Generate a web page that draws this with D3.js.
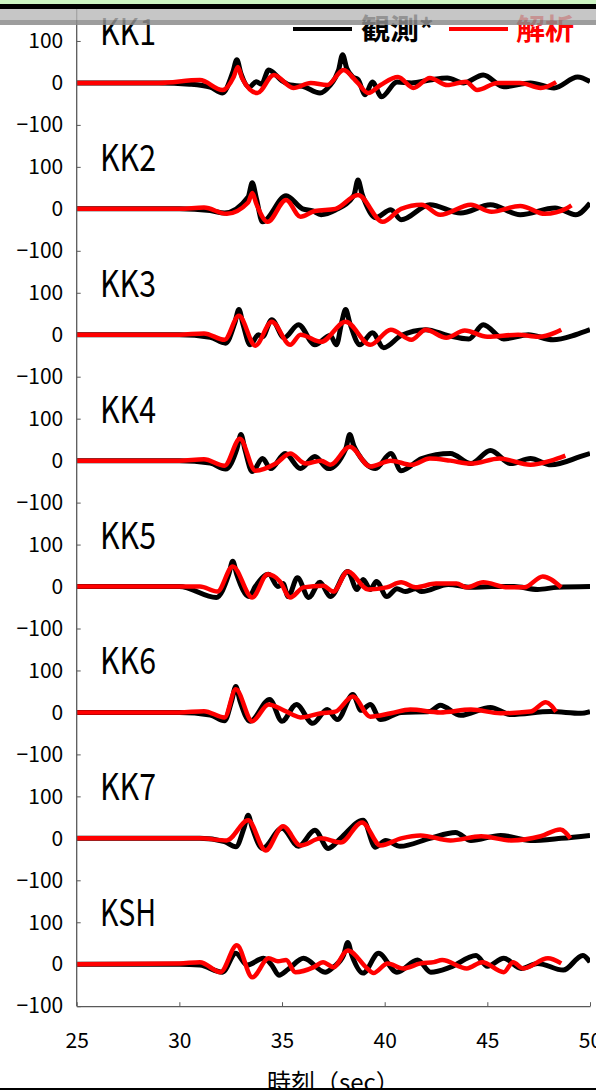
<!DOCTYPE html>
<html>
<head>
<meta charset="utf-8">
<script src="https://cdn.jsdelivr.net/npm/d3@7"></script>
<style>
  body { margin: 0; background: #fff; }
  svg { display: block; }
  text { font-family: "Noto Sans CJK JP", "Noto Sans", sans-serif; }
</style>
</head>
<body>
<div id="chart"></div>
<script>
// station names, top to bottom
var stations = ["KK1", "KK2", "KK3", "KK4", "KK5", "KK6", "KK7", "KSH"];

// observed (black) and analysis (red) traces, [time sec, value]
var obsKK1 = [[25,0],[29,0],[30.5,-3],[31.5,-10],[32.1,-24],[32.6,25],[32.8,55],[33.0,22],[33.4,-10],[33.75,3],[34.0,-3],[34.35,31],[35.0,5],[35.4,-5],[36.0,-8],[36.85,-24],[37.3,-8],[37.75,30],[37.95,67],[38.15,35],[38.45,14],[38.7,8],[39.05,-28],[39.4,2],[39.85,-33],[40.6,2],[41.3,0],[42.2,7],[43.05,12],[43.85,0],[44.8,19],[45.8,-9],[47.1,0],[48.25,-12],[49.4,14],[50,3]];
var anaKK1 = [[25,0],[29,0],[31,7],[32.1,-17],[32.65,15],[32.85,38],[33.05,12],[33.8,-24],[34.6,19],[35.55,-12],[36.4,0],[37.2,-5],[38.0,31],[38.65,2],[39.2,-24],[39.8,-5],[40.65,14],[41.4,-12],[42.2,12],[43.05,-5],[43.95,3],[44.5,-17],[45.5,0],[46.6,0],[47.6,-12],[48.35,2]];

var obsKK2 = [[25,0],[30,0],[31.5,-4],[32.2,-10],[33.35,28],[33.55,62],[33.75,25],[34.05,-31],[35.2,31],[36.0,0],[36.5,-5],[36.9,-14],[37.6,-3],[38.5,32],[38.7,69],[38.9,35],[39.1,10],[39.55,-21],[40.3,-2],[40.8,-26],[42.2,10],[43.7,-10],[45.15,10],[46.6,-14],[48.3,2],[49.3,-14],[50,14]];
var anaKK2 = [[25,0],[30,0],[31.2,3],[32.3,-12],[33.35,15],[33.55,38],[33.75,12],[34.3,-31],[35.2,21],[35.9,-19],[36.6,-5],[37.6,0],[38.7,33],[39.9,-31],[40.8,0],[41.8,10],[42.7,-14],[44.2,10],[45.2,-7],[46.6,7],[47.8,-12],[48.9,2],[49.1,8]];

var obsKK3 = [[25,0],[30,0],[31.5,-6],[32.25,-20],[32.7,28],[32.9,60],[33.1,25],[33.45,-24],[33.85,0],[34.05,-5],[34.5,36],[35.1,-7],[35.8,24],[36.6,-24],[37.35,-2],[37.65,-24],[37.9,28],[38.1,60],[38.3,28],[38.8,-24],[39.4,5],[39.95,-31],[40.8,-2],[42.0,12],[43.1,-2],[44.1,-10],[44.8,24],[45.8,-10],[47.0,0],[48.2,-12],[49.3,0],[50,12]];
var anaKK3 = [[25,0],[30,0],[31.2,3],[32.2,-12],[32.9,45],[33.7,-26],[34.5,31],[35.4,-24],[35.9,0],[36.9,-17],[38.1,31],[39.3,-24],[40.3,12],[41.3,-12],[42.0,12],[43.0,-7],[43.9,10],[45.0,-5],[46.5,0],[47.5,-5],[48.3,5],[48.6,12]];

var obsKK4 = [[25,0],[30,0],[31.5,-6],[32.25,-20],[32.8,28],[33.0,62],[33.2,25],[33.55,-26],[34.05,5],[34.45,-19],[35.15,17],[35.9,-19],[36.6,10],[37.25,-19],[38.1,28],[38.3,62],[38.5,35],[38.7,17],[39.55,-19],[40.3,17],[40.8,-24],[41.8,5],[43.2,17],[44.2,-7],[45.15,24],[46.15,-7],[47.1,5],[48.1,-10],[49.55,10],[50,17]];
var anaKK4 = [[25,0],[30,0],[31.2,3],[32.2,-12],[32.95,52],[33.7,-24],[34.7,-7],[35.4,17],[36.15,-7],[36.9,0],[37.35,-10],[38.3,33],[39.3,-14],[40.3,0],[41.3,-10],[42.2,5],[43.2,0],[44.2,-7],[45.6,5],[47.1,-10],[48.1,0],[48.8,12]];

var obsKK5 = [[25,0],[30,0],[31.8,-26],[32.4,28],[32.6,60],[32.8,28],[33.4,-24],[33.7,0],[34.35,29],[34.8,0],[35.05,7],[35.3,-24],[35.75,21],[36.3,-26],[36.85,10],[37.35,-24],[38.2,36],[38.65,-7],[38.95,17],[39.3,-7],[39.6,12],[40.1,-24],[40.6,-5],[41.0,-12],[41.5,-5],[41.8,-12],[43.1,5],[44.2,-2],[45.2,0],[46.3,0],[47.45,-7],[48.4,-2],[50,0]];
var anaKK5 = [[25,0],[31,0],[31.85,-12],[32.6,48],[33.55,-26],[34.3,29],[34.9,12],[35.4,-26],[36.05,-2],[37.0,2],[37.5,-12],[38.2,36],[39.2,-7],[40.1,-2],[40.8,10],[41.5,-2],[42.5,7],[43.5,7],[44.0,-2],[44.8,10],[46.0,-2],[46.8,-2],[47.7,24],[48.6,-2]];

var obsKK6 = [[25,0],[30,0],[31.5,-6],[32.2,-20],[32.55,28],[32.75,62],[32.95,28],[33.45,-21],[34.4,31],[35.0,-21],[35.7,19],[36.5,-26],[37.2,7],[37.7,-17],[38.45,43],[38.85,5],[39.3,19],[39.8,-17],[40.8,0],[42.2,2],[42.7,17],[43.7,-7],[45.15,12],[46.15,-5],[48.1,2],[49.55,-2],[50,2]];
var anaKK6 = [[25,0],[30,0],[31.2,3],[32.2,-12],[32.75,55],[33.55,-21],[34.35,19],[35.0,7],[35.5,-5],[35.9,-12],[36.9,-2],[37.6,2],[38.45,38],[39.3,-10],[40.3,-2],[41.25,7],[42.7,0],[44.2,7],[45.65,-2],[47.1,2],[47.85,24],[48.35,2]];

var obsKK7 = [[25,0],[31,0],[32.2,-8],[32.75,-20],[33.15,25],[33.35,55],[33.55,25],[34.05,-24],[35.0,24],[35.8,-19],[36.6,19],[37.25,-24],[37.85,0],[38.95,43],[39.55,-21],[40.05,-5],[40.75,-19],[42.2,0],[43.45,14],[44.2,-5],[45.65,7],[47.1,-5],[48.6,0],[50,7]];
var anaKK7 = [[25,0],[31,0],[32.3,-5],[33.35,43],[34.2,-29],[35.05,29],[35.9,-17],[36.9,0],[37.85,-10],[38.9,38],[39.8,-17],[40.8,0],[41.75,7],[43.2,-5],[44.7,5],[46.15,-5],[47.6,5],[48.55,21],[49.05,0]];

var obsKSH = [[25,0],[30,0],[31.0,-2],[32.1,-19],[32.75,26],[33.3,-2],[34.1,14],[34.5,-2],[34.85,-26],[35.3,-12],[36.05,14],[37.1,-19],[37.5,-7],[38.0,22],[38.2,52],[38.4,22],[38.95,-21],[39.7,26],[40.6,-19],[41.6,10],[42.25,-19],[43.2,-7],[44.45,21],[45.0,-5],[45.8,14],[46.65,-10],[47.45,2],[48.7,-14],[49.65,21],[50,5]];
var anaKSH = [[25,0],[30,2],[31.0,5],[32.0,-19],[32.8,45],[33.55,-31],[34.35,14],[34.8,7],[35.2,10],[35.65,-19],[36.55,-7],[37.0,5],[37.5,-7],[38.2,33],[39.15,-10],[39.45,-21],[40.15,2],[40.9,-10],[41.75,2],[42.4,5],[42.8,10],[44.0,-10],[44.75,5],[45.8,-19],[46.25,5],[46.75,-10],[47.95,14],[48.6,2]];

var observed = [obsKK1, obsKK2, obsKK3, obsKK4, obsKK5, obsKK6, obsKK7, obsKSH];
var analysis = [anaKK1, anaKK2, anaKK3, anaKK4, anaKK5, anaKK6, anaKK7, anaKSH];

var xTicks = [25, 30, 35, 40, 45, 50];
var yTicks = [-100, 0, 100];
var legendLabels = ["観測*", "解析"];
var xTitle = "時刻（sec）";

var width = 596;
var height = 1091;
var plotLeft = 76.7;
var plotRight = 590;
var plotTop = -1;
var panelHeight = 125.9;
var plotBottom = plotTop + panelHeight * stations.length;

var svg = d3
  .select("#chart")
  .append("svg")
  .attr("width", width)
  .attr("height", height);

var x = d3.scaleLinear().domain([25, 50]).range([plotLeft, plotRight]);

svg
  .append("clipPath")
  .attr("id", "plot-clip")
  .append("rect")
  .attr("x", plotLeft)
  .attr("y", 0)
  .attr("width", plotRight - plotLeft)
  .attr("height", height);

var axisColor = "#595959";

// one panel per station
stations.forEach(function (name, i) {
  var y = d3
    .scaleLinear()
    .domain([-100, 200])
    .range([plotTop + panelHeight * (i + 1), plotTop + panelHeight * i]);

  var yAxis = svg
    .append("g")
    .attr("transform", "translate(" + plotLeft + ",0)")
    .call(d3.axisLeft(y).tickValues(yTicks).tickSizeInner(-4).tickSizeOuter(0).tickPadding(13.5));
  yAxis.select(".domain").remove();
  yAxis.selectAll("line").attr("stroke", axisColor);
  yAxis.selectAll("text").attr("font-size", 21).attr("fill", "#000").attr("font-family", null);

  svg
    .append("text")
    .attr("x", 100)
    .attr("y", y(0) - 38)
    .attr("font-size", 37)
    .attr("textLength", 56)
    .attr("lengthAdjust", "spacingAndGlyphs")
    .attr("fill", "#000")
    .text(name);

  var line = d3
    .line()
    .x((d) => x(d[0]))
    .y((d) => y(d[1]))
    .curve(d3.curveMonotoneX);

  svg
    .append("path")
    .datum(observed[i])
    .attr("clip-path", "url(#plot-clip)")
    .attr("d", line)
    .attr("fill", "none")
    .attr("stroke", "#000")
    .attr("stroke-width", 5)
    .attr("stroke-linejoin", "round");

  svg
    .append("path")
    .datum(analysis[i])
    .attr("clip-path", "url(#plot-clip)")
    .attr("d", line)
    .attr("fill", "none")
    .attr("stroke", "#ff0000")
    .attr("stroke-width", 4.5)
    .attr("stroke-linejoin", "round");
});

// left axis line
svg
  .append("line")
  .attr("x1", plotLeft)
  .attr("x2", plotLeft)
  .attr("y1", 0)
  .attr("y2", plotBottom)
  .attr("stroke", axisColor)
  .attr("stroke-width", 1.3);

// bottom axis
var xAxis = svg
  .append("g")
  .attr("transform", "translate(0," + plotBottom + ")")
  .call(d3.axisBottom(x).tickValues(xTicks).tickSizeInner(-4).tickSizeOuter(0).tickPadding(27));
xAxis.select(".domain").attr("stroke", axisColor).attr("stroke-width", 1.3);
xAxis.selectAll("line").attr("stroke", axisColor);
xAxis.selectAll("text").attr("font-size", 21).attr("fill", "#000").attr("font-family", null);

svg
  .append("text")
  .attr("x", (plotLeft + plotRight) / 2)
  .attr("y", 1091)
  .attr("text-anchor", "middle")
  .attr("font-size", 24)
  .attr("fill", "#000")
  .text(xTitle);

// legend
var legendItems = [
  { label: legendLabels[0], color: "#000", x1: 293, x2: 352, tx: 361 },
  { label: legendLabels[1], color: "#ff0000", x1: 449, x2: 508, tx: 516 },
];
legendItems.forEach(function (d) {
  svg
    .append("line")
    .attr("x1", d.x1)
    .attr("x2", d.x2)
    .attr("y1", 29)
    .attr("y2", 29)
    .attr("stroke", d.color)
    .attr("stroke-width", 4);
  svg
    .append("text")
    .attr("x", d.tx)
    .attr("y", 40)
    .attr("font-size", 29)
    .attr("font-weight", "bold")
    .attr("fill", d.color)
    .text(d.label);
});

// window chrome around the screenshot
svg.append("rect").attr("x", 0).attr("y", 0).attr("width", width).attr("height", 4).attr("fill", "#cdf5c3");
svg.append("rect").attr("x", 0).attr("y", 4).attr("width", width).attr("height", 5).attr("fill", "#000");
svg.append("rect").attr("x", 0).attr("y", 9).attr("width", width).attr("height", 11).attr("fill", "#b8b8b8").attr("opacity", 0.8);
svg.append("rect").attr("x", 0).attr("y", 20).attr("width", width).attr("height", 5).attr("fill", "#8c8c8c").attr("opacity", 0.85);
svg.append("rect").attr("x", 0).attr("y", 1088).attr("width", width).attr("height", 2).attr("fill", "#000");
svg.append("rect").attr("x", 0).attr("y", 1090).attr("width", width).attr("height", 1).attr("fill", "#fff");
</script>
</body>
</html>
